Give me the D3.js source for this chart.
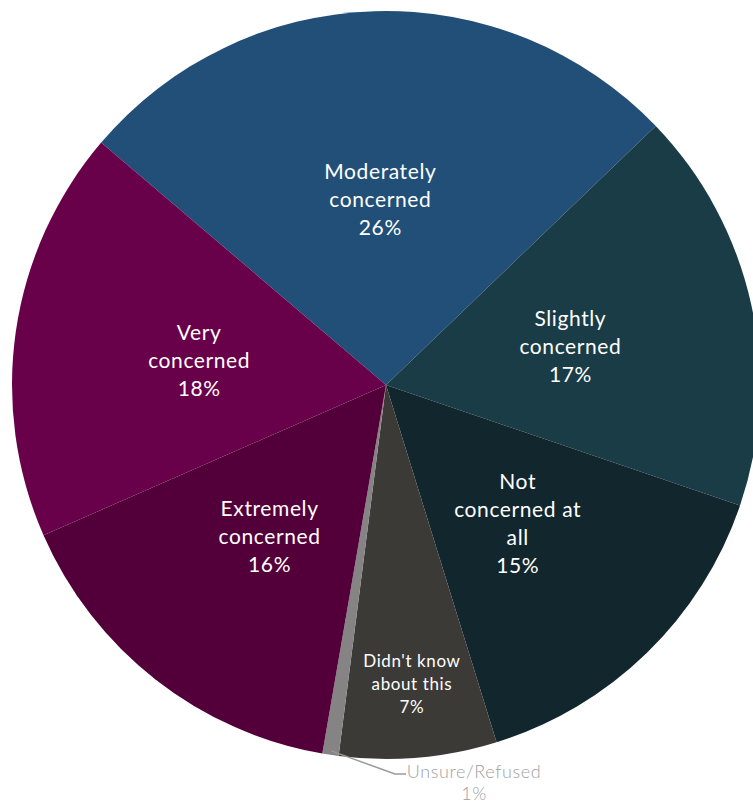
<!DOCTYPE html>
<html>
<head>
<meta charset="utf-8">
<script src="https://cdn.jsdelivr.net/npm/d3@7"></script>
<style>
  html, body { margin: 0; padding: 0; background: #fff; overflow: hidden; }
  svg { display: block; }
  .pie-label { font-family: Lato, "Open Sans", sans-serif; font-weight: 400; fill: #fff; letter-spacing: 0.6px; }
</style>
</head>
<body>
<div id="chart"></div>
<script>
// slice order runs clockwise from the upper left
var categories = ["Moderately concerned", "Slightly concerned", "Not concerned at all", "Didn't know about this", "Unsure/Refused", "Extremely concerned", "Very concerned"];
var values = [26.6, 17.4, 15.0, 6.8, 0.7, 15.7, 17.8];
var labelLines = [
    ["Moderately", "concerned", "26%"],
    ["Slightly", "concerned", "17%"],
    ["Not", "concerned at", "all", "15%"],
    ["Didn't know", "about this", "7%"],
    ["Unsure/Refused", "1%"],
    ["Extremely", "concerned", "16%"],
    ["Very", "concerned", "18%"]
];
var colors = ["#214f78", "#1a3c47", "#12262e", "#3b3a37", "#858383", "#53003a", "#68004a"];

var width = 753, height = 803;
var cx = 386, cy = 385, radius = 374;

var svg = d3.select("#chart").append("svg").attr("width", width).attr("height", height);
var g = svg.append("g").attr("transform", "translate(" + cx + "," + cy + ")");

var startAngle = -49.6 * Math.PI / 180;
var pie = d3.pie()
    .sort(null)
    .startAngle(startAngle)
    .endAngle(startAngle + 2 * Math.PI)
    .value(function (d) { return d; });

var path = d3.arc().outerRadius(radius).innerRadius(0);
var labelArc = d3.arc().outerRadius(radius * 0.505).innerRadius(radius * 0.505);
var smallArc = d3.arc().outerRadius(radius * 0.8).innerRadius(radius * 0.8);

var arcs = pie(values);

g.selectAll(".arc")
    .data(arcs)
  .enter().append("path")
    .attr("class", "arc")
    .attr("d", path)
    .attr("fill", function (d, i) { return colors[i]; });

arcs.forEach(function (d, i) {
    var lines = labelLines[i];
    if (i === 4) {
        // outside label with leader line
        var mid = (d.startAngle + d.endAngle) / 2;
        var px = Math.sin(mid) * (radius - 4), py = -Math.cos(mid) * (radius - 4);
        g.append("polyline")
            .attr("points", [[px, py], [9, 389], [20, 389]].map(function (p) { return p.join(","); }).join(" "))
            .attr("fill", "none")
            .attr("stroke", "#9a9a9a")
            .attr("stroke-width", 1.5);
        var t = g.append("text")
            .attr("class", "pie-label")
            .attr("text-anchor", "middle")
            .style("fill", "#a0a0a0")
            .style("font-weight", 300)
            .style("font-size", "18px");
        lines.forEach(function (s, k) {
            t.append("tspan").attr("x", 88).attr("y", 393 + k * 22).text(s);
        });
        return;
    }
    var small = i === 3;
    var c = small ? smallArc.centroid(d) : labelArc.centroid(d);
    var lh = small ? 23 : 28;
    var fs = small ? 17 : 21;
    var t2 = g.append("text")
        .attr("class", "pie-label")
        .attr("text-anchor", "middle")
        .style("font-size", fs + "px");
    lines.forEach(function (s, k) {
        t2.append("tspan")
            .attr("x", c[0])
            .attr("y", c[1] + (k - (lines.length - 1) / 2) * lh + fs * 0.35 + (small ? 1 : 3))
            .text(s);
    });
});
</script>
</body>
</html>
